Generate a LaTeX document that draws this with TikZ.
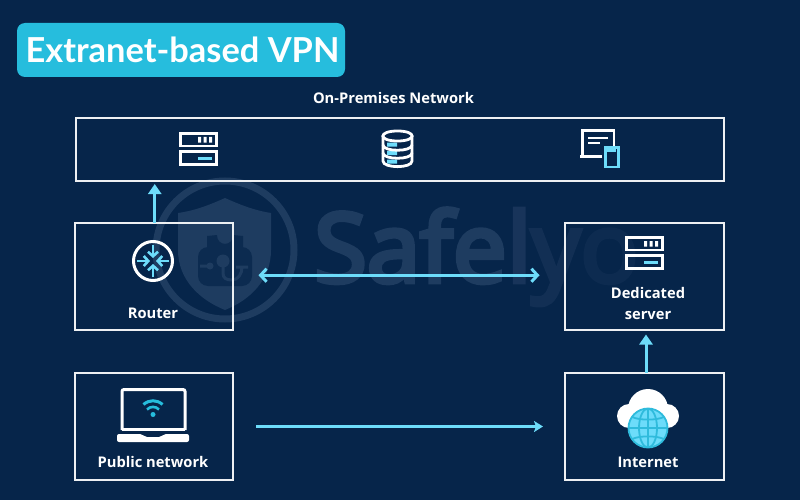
\documentclass[tikz,border=0pt]{standalone}
\usepackage{fontspec}
\setmainfont{Open Sans}
\newfontfamily\titlefont{Lato}
\newfontfamily\wmfont[FakeBold=5]{Open Sans}
\usetikzlibrary{arrows.meta}
\definecolor{bgnavy}{HTML}{06254A}
\definecolor{wm}{HTML}{1E3C60}
\definecolor{wmdark}{HTML}{0C2B50}
\definecolor{wmb}{HTML}{18345A}
\definecolor{wmc}{HTML}{122F54}
\definecolor{wmd}{HTML}{0D2B50}
\definecolor{sky}{HTML}{6DDCFA}
\definecolor{teal}{HTML}{26BDDD}
\definecolor{gline}{HTML}{2FBBDC}
\definecolor{cline}{HTML}{EDF0F3}
\tikzset{
  box/.style={draw=cline,line width=2pt,inner sep=0pt,outer sep=0pt,anchor=north west},
  lbl/.style={text=white,font=\fontsize{14.7}{21}\selectfont\bfseries,align=center,inner sep=0pt},
  flow/.style={draw=sky,line width=3pt,-{Triangle[length=10pt,width=13pt]}},
  both/.style={draw=sky,line width=3pt,{Straight Barb[length=6pt,width=13pt,line width=3pt]}-{Straight Barb[length=6pt,width=13pt,line width=3pt]}},
  long/.style={draw=sky,line width=3pt,-{Stealth[length=9pt,width=11pt,inset=2pt]}},
  icon/.style={draw=white,line width=2.8pt},
  wmark/.style={font=\wmfont\fontsize{96}{96}\selectfont,inner sep=0pt,anchor=base west},
  serverpic/.pic={
    \draw[icon] (1.4,1.4) rectangle (37.6,14);
    \draw[icon] (1.4,19.4) rectangle (37.6,32.8);
    \fill[white] (19,5) rectangle (22,10.5) (24.5,5) rectangle (27.5,10.5) (30,5) rectangle (33,10.5);
    \fill[sky] (19,24.5) rectangle (33,28);
  }
}
\begin{document}
\begin{tikzpicture}[x=1pt,y=-1pt]
\useasboundingbox (0,0) rectangle (800,500);
\fill[bgnavy] (0,0) rectangle (800,500);
% watermark
\draw[wm,line width=7pt] (225,250) circle (69);
\fill[wm] (225,198) .. controls (245,207) and (258,211) .. (271,213) -- (271,250) .. controls (271,280) and (250,300) .. (225,310) .. controls (200,300) and (178,280) .. (178,250) -- (178,213) .. controls (192,211) and (205,207) .. (225,198) -- cycle;
\draw[wmdark,line width=10pt] (212,250) -- (212,236) arc[start angle=180,end angle=0,radius=13] -- (238,250);
\fill[wmdark,rounded corners=10pt] (198,247) rectangle (252,286);
\draw[wm,line width=3pt] (200,266) -- (210,266) (223,261) -- (223,273) .. controls (223,278) and (226,280) .. (232,280) .. controls (238,280) and (242,274) .. (242,267) (236,267) -- (248,267);
\fill[wm] (223,261) circle (6.5) (210,266) circle (3.5);
\node[text=wm,wmark] (mark) at (314,282) {Safe};
\node[text=wmb,wmark] (markb) at (mark.base east) {l};
\node[text=wmc,wmark] (markc) at (markb.base east) {y};
\node[text=wmd,wmark] (markd) at (markc.base east) {o};
% title
\node[fill=teal,rounded corners=8pt,minimum width=328pt,minimum height=54pt,inner sep=0pt,outer sep=0pt,anchor=north west] (title) at (17,23) {};
\node[text=white,font=\titlefont\fontsize{34.4}{36}\selectfont\bfseries,inner sep=0pt] (titletext) at (182.5,50) {Extranet-based VPN};
\node[lbl] (onprem) at (393.5,98) {On-Premises Network};
% boxes
\node[box,minimum width=648pt,minimum height=63pt] (top) at (76,118) {};
\node[box,minimum width=158.5pt,minimum height=107.5pt] (router) at (74.5,222.5) {};
\node[box,minimum width=159pt,minimum height=107.5pt] (server) at (565,222.5) {};
\node[box,minimum width=158.5pt,minimum height=107pt] (public) at (74.5,373) {};
\node[box,minimum width=159pt,minimum height=107pt] (internet) at (565,373) {};
% labels
\node[lbl] (lrouter) at (153,313) {Router};
\node[lbl] (lserver) at (648,303.5) {Dedicated\\server};
\node[lbl] (lpublic) at (153,462) {Public network};
\node[lbl] (linternet) at (648,462) {Internet};
% connectors
\draw[flow,shorten >=3pt] ([xshift=1pt]router.north) -- ([xshift=1pt]router.north |- top.south);
\draw[flow,shorten >=4.5pt] ([xshift=1.5pt]internet.north) -- ([xshift=1.5pt]internet.north |- server.south);
\draw[both,shorten <=25.5pt,shorten >=25.5pt] ([yshift=1pt]router.east) -- ([yshift=1pt]server.west);
\draw[long,shorten <=23pt,shorten >=22pt] (public.east) -- (internet.west);
% icons
\pic at (179,132) {serverpic};
\pic at (625,236) {serverpic};
% database
\begin{scope}[line cap=round]
\fill[sky] (387,142.5) rectangle (397,146.5) (387,151) rectangle (397,155) (387,159.5) rectangle (397,163.5);
\draw[icon] (383,136) -- (383,161) .. controls (383,168.5) and (412,168.5) .. (412,161) -- (412,136);
\draw[icon] (397.5,131) .. controls (378,131) and (378,141) .. (397.5,141) .. controls (417,141) and (417,131) .. (397.5,131) -- cycle;
\draw[icon] (383,145) .. controls (383,152) and (412,152) .. (412,145);
\draw[icon] (383,153) .. controls (383,160) and (412,160) .. (412,153);
\end{scope}
% desktop + phone
\draw[icon] (602,156.5) -- (580,156.5) (582.5,156.5) -- (582.5,130.5) -- (614,130.5) -- (614,146);
\draw[draw=white,line width=2.2pt] (588,138) -- (608,138) (588,143) -- (600,143);
\fill[sky] (607,148) rectangle (616,151.5);
\draw[draw=sky,line width=2.6pt] (605.3,147.3) rectangle (618.2,167);
% router icon
\draw[white,line width=3pt] (153,261) circle (19.5);
\foreach \a in {0,90,180,270}{
  \begin{scope}[shift={(153,261)},rotate=\a]
    \draw[draw=sky,line width=2.6pt,-{Straight Barb[length=4.5pt,width=10pt,line width=2.6pt]}] (0,-16) -- (0,-3);
  \end{scope}
}
% laptop
\draw[white,line width=3pt,rounded corners=2pt] (122,430) -- (122,389.5) -- (185,389.5) -- (185,430);
\draw[white,line width=3pt] (122,429) -- (185,429);
\fill[white,rounded corners=2pt] (117,434) -- (142,434) -- (145,437) -- (161,437) -- (164,434) -- (189,434) -- (189,442) -- (117,442) -- cycle;
\draw[teal,line width=3pt] (143.5,404.5) .. controls (149,399.5) and (157,399.5) .. (162.5,404.5);
\draw[teal,line width=2.6pt] (147,409.5) .. controls (150.5,406) and (155.5,406) .. (159,409.5);
\fill[teal] (153,414.5) circle (2.5);
% cloud + globe
\fill[white] (648,409) circle (20) (629,416) circle (12) (667,416) circle (12);
\fill[sky] (648,428) circle (19.5);
\begin{scope}
\clip (648,428) circle (19.5);
\draw[gline,line width=1.8pt] (648,428) ellipse (9 and 19.5) (648,408) -- (648,448) (628,428) -- (668,428);
\draw[gline,line width=1.8pt] (632,417) .. controls (640,420.5) and (656,420.5) .. (664,417) (632,439) .. controls (640,435.5) and (656,435.5) .. (664,439);
\end{scope}
\draw[gline,line width=1.8pt] (648,428) circle (19.5);
\end{tikzpicture}
\end{document}
